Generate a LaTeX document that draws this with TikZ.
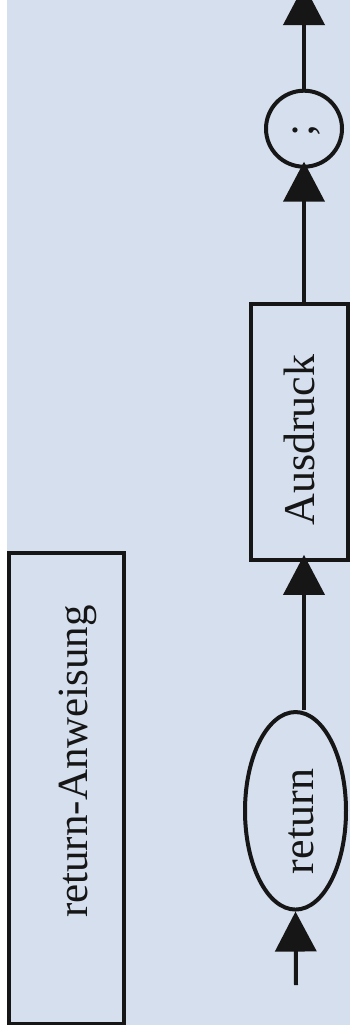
\documentclass[tikz,border=0pt]{standalone}
\usepackage{fontspec}
\setmainfont{Liberation Serif}
\usetikzlibrary{shapes.geometric,arrows.meta}
\definecolor{bgblue}{RGB}{213,223,237}
\definecolor{ink}{RGB}{22,22,22}
\tikzset{
  shapebox/.style={draw=ink, line width=3.8pt, inner sep=0pt},
  conn/.style={draw=ink, line width=4pt, -{Triangle[length=40pt,width=41pt]}},
  lbl/.style={rotate=90, anchor=base, inner sep=0pt, text=ink, font=\fontsize{44}{50}\selectfont},
}
\begin{document}
\begin{tikzpicture}[x=1pt,y=-1pt]
\useasboundingbox (0,0) rectangle (350,1036);
\fill[white] (0,0) rectangle (350,1036);
\fill[bgblue] (7,0) rectangle (350,1025);

% title box
\node[shapebox, minimum width=115pt, minimum height=470.5pt] (title) at (66.5,788.3) {};
\node[lbl, font=\fontsize{43}{50}\selectfont] (titletext) at (87,761.5) {return-Anweisung};

% syntax elements
\node[shapebox, ellipse, line width=4pt, minimum width=101pt, minimum height=197.5pt] (ret) at (295.5,810.8) {};
\node[lbl] (rettext) at (313,821.5) {return};

\node[shapebox, minimum width=97pt, minimum height=256pt] (aus) at (299.5,432) {};
\node[lbl] (austext) at (314,440) {Ausdruck};

\node[shapebox, circle, line width=4pt, minimum size=76pt] (semi) at (304,128.7) {};
\node[lbl] (semitext) at (313,130) {;};

% connectors
\coordinate (in) at (296,985);
\coordinate (mx) at (304,0);
\coordinate (out) at (304,-15);

\draw[conn] (in) -- (ret.south);
\draw[conn, shorten >=-7pt] (ret.north -| mx) -- (aus.south -| mx);
\draw[conn, shorten >=-7pt] (aus.north -| mx) -- (semi.south);
\draw[conn] (semi.north) -- (out);
\end{tikzpicture}
\end{document}
